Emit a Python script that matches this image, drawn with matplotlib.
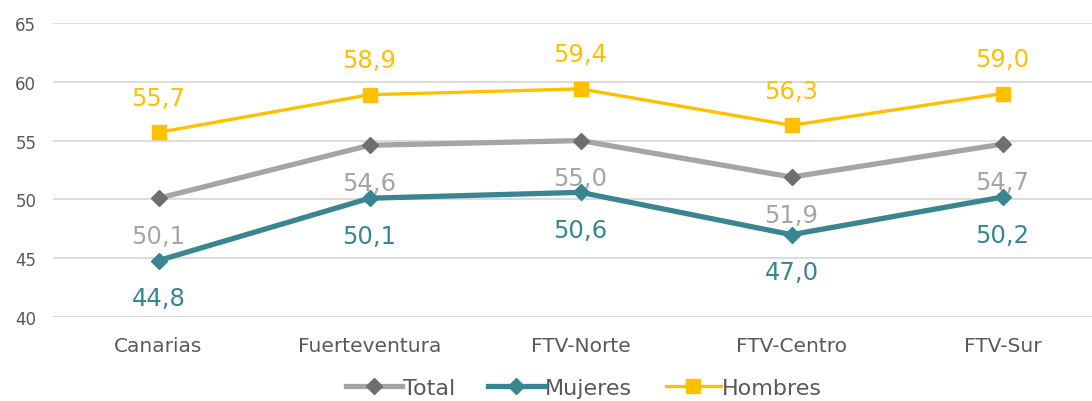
import matplotlib
matplotlib.use("Agg")
import matplotlib.pyplot as plt

categories = ["Canarias", "Fuerteventura", "FTV-Norte", "FTV-Centro", "FTV-Sur"]
total = [50.1, 54.6, 55.0, 51.9, 54.7]
mujeres = [44.8, 50.1, 50.6, 47.0, 50.2]
hombres = [55.7, 58.9, 59.4, 56.3, 59.0]
yticks = [40, 45, 50, 55, 60, 65]

plt.rcParams['font.family'] = ['DejaVu Sans']

fig = plt.figure(figsize=(10.92, 4.02), dpi=100)
ax = fig.add_axes([53/1092, 1 - 318/402, (1108 - 53)/1092, (318 - 24)/402])

x = list(range(len(categories)))
c_total, c_total_m = "#A5A5A5", "#6F6F6F"
c_muj = "#3A8690"
c_hom = "#FFC000"

ax.plot(x, total, color=c_total, lw=3.8, marker="D", ms=8, mfc=c_total_m, mec=c_total_m,
        label="Total", zorder=3)
ax.plot(x, mujeres, color=c_muj, lw=3.8, marker="D", ms=8, mfc=c_muj, mec=c_muj,
        label="Mujeres", zorder=3)
ax.plot(x, hombres, color=c_hom, lw=2.4, marker="s", ms=10, mfc=c_hom, mec=c_hom,
        label="Hombres", zorder=4)

def fmt(v):
    return f"{v:.1f}".replace(".", ",")

lab_fs = 17.5
for xi, v in zip(x, hombres):
    ax.annotate(fmt(v), (xi, v), xytext=(0, 25), textcoords="offset points",
                ha="center", va="center", color=c_hom, fontsize=lab_fs)
for xi, v in zip(x, total):
    ax.annotate(fmt(v), (xi, v), xytext=(0, -27), textcoords="offset points",
                ha="center", va="center", color=c_total, fontsize=lab_fs)
for xi, v in zip(x, mujeres):
    ax.annotate(fmt(v), (xi, v), xytext=(0, -27), textcoords="offset points",
                ha="center", va="center", color=c_muj, fontsize=lab_fs)

ax.set_ylim(40, 65)
ax.set_yticks(yticks)
ax.set_xlim(-0.5, len(categories) - 0.5)
ax.set_xticks(x)
ax.set_xticklabels(categories)
ax.tick_params(axis="y", length=0, labelsize=12, labelcolor="#595959", pad=12)
ax.tick_params(axis="x", length=0, labelsize=14.5, labelcolor="#595959", pad=14)
ax.grid(axis="y", color="#D9D9D9", lw=1.3)
ax.set_axisbelow(True)
for s in ax.spines.values():
    s.set_visible(False)

leg = fig.legend(loc="center", bbox_to_anchor=(0.535, 1 - 389/402), ncol=3, frameon=False,
                 fontsize=16, handlelength=2.5, handletextpad=0.05, columnspacing=1.5)
for t in leg.get_texts():
    t.set_color("#595959")

fig.savefig("out.png", dpi=100)
